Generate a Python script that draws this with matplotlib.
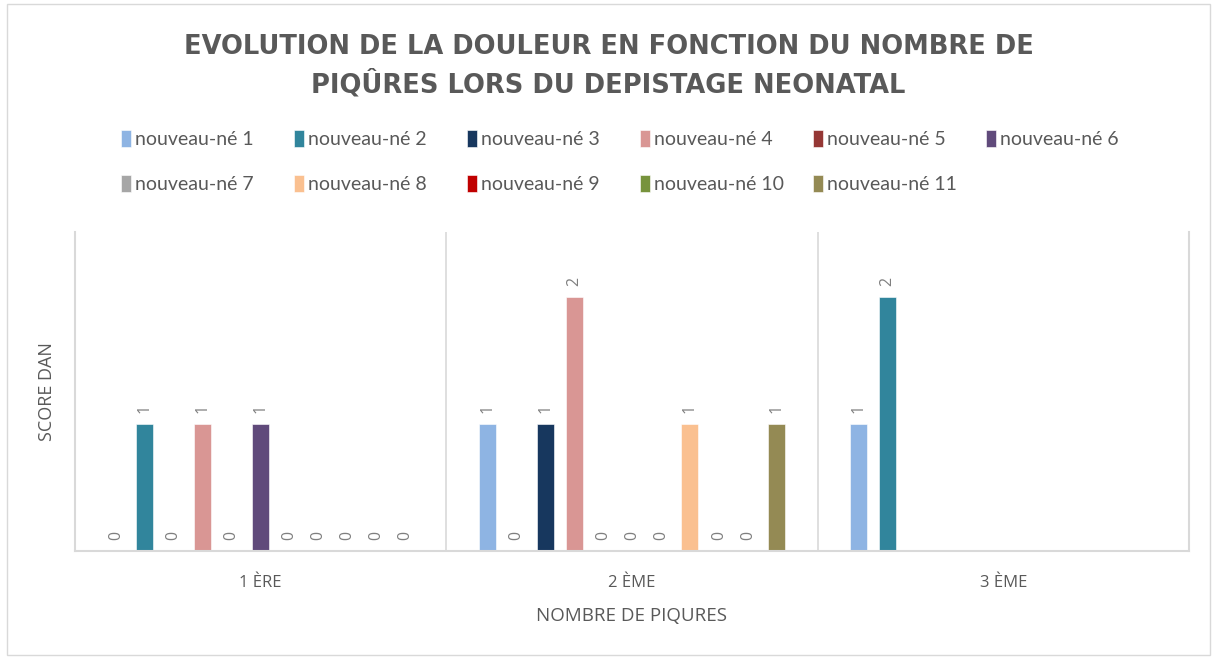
"""Douleur (score DAN) selon le nombre de piqures - depistage neonatal."""

import matplotlib
matplotlib.use("Agg")
import matplotlib.pyplot as plt
import numpy as np

# === Data ===
CATEGORIES = ["1 ÈRE", "2 ÈME", "3 ÈME"]
SERIES = [f"nouveau-né {i}" for i in range(1, 12)]
NAN = np.nan
# one list per newborn, values for 1ère / 2ème / 3ème
NB1 = [0, 1, 1]
NB2 = [1, 0, 2]
NB3 = [0, 1, NAN]
NB4 = [1, 2, NAN]
NB5 = [0, 0, NAN]
NB6 = [1, 0, NAN]
NB7 = [0, 0, NAN]
NB8 = [0, 1, NAN]
NB9 = [0, 0, NAN]
NB10 = [0, 0, NAN]
NB11 = [0, 1, NAN]
VALUES = [NB1, NB2, NB3, NB4, NB5, NB6, NB7, NB8, NB9, NB10, NB11]
COLORS = ["#8EB4E3", "#31859C", "#17375E", "#D99694", "#953735", "#604A7B",
          "#A6A6A6", "#FAC090", "#C00000", "#77933C", "#948A54"]

TEXT = "#595959"
GRID = "#D9D9D9"

plt.rcParams["font.family"] = ["Lato", "DejaVu Sans"]
OPEN = ["Open Sans", "DejaVu Sans"]

fig = plt.figure(figsize=(12.17, 6.59), dpi=100)
ax = fig.add_axes([0.0616, 0.164, 0.9154, 0.484])

x = np.arange(len(CATEGORIES))
slot = 0.078
width = 0.046
n = len(SERIES)
handles = []
for j, (name, vals, color) in enumerate(zip(SERIES, VALUES, COLORS)):
    vals = np.array(vals, dtype=float)
    offs = x + (j - (n - 1) / 2) * slot
    bars = ax.bar(offs, np.nan_to_num(vals), width, color=color, label=name,
                  edgecolor="white", linewidth=0.4)
    labels = ["" if np.isnan(v) else f"{v:.0f}" for v in vals]
    ax.bar_label(bars, labels=labels, rotation=90, padding=8, fontsize=11.5,
                 color="#7F7F7F", family=OPEN)
    handles.append(bars)

ax.set_xlim(-0.5, len(CATEGORIES) - 0.5)
ax.set_ylim(0, 2.51)
ax.set_yticks([])
ax.set_xticks(x)
ax.set_xticklabels(CATEGORIES, fontsize=12, color=TEXT, family=OPEN)
ax.tick_params(axis="x", length=0, pad=17)
for xs in x[:-1] + 0.5:
    ax.axvline(xs, color=GRID, linewidth=1.2)
for side in ["left", "right", "bottom"]:
    ax.spines[side].set_color(GRID)
    ax.spines[side].set_linewidth(1.5)
ax.spines["top"].set_visible(False)

ax.set_ylabel("SCORE DAN", fontsize=13, color=TEXT, labelpad=14, family=OPEN)
ax.set_xlabel("NOMBRE DE PIQURES", fontsize=13.5, color=TEXT, labelpad=12,
              family=OPEN)

fig.text(0.5, 0.9, "EVOLUTION DE LA DOULEUR EN FONCTION DU NOMBRE DE\n"
         "PIQÛRES LORS DU DEPISTAGE NEONATAL", ha="center", va="center",
         fontsize=18.5, fontweight="bold", color=TEXT, linespacing=1.45,
         family=["DejaVu Sans"])

# legend: one entry per slot so that columns are evenly spaced, row by row
ncol = 6
x0, dx = 0.088, 173 / 1217
y0, dy = 0.823, 45 / 659
for i, h in enumerate(handles):
    row, col = divmod(i, ncol)
    fig.legend(handles=[h], loc="upper left",
               bbox_to_anchor=(x0 + col * dx, y0 - row * dy), frameon=False,
               fontsize=14, handlelength=0.55, handleheight=0.95,
               handletextpad=0.2, labelcolor=TEXT, borderpad=0.2)

fig.patches.append(plt.Rectangle((0.006, 0.006), 0.988, 0.988,
                                 transform=fig.transFigure, fill=False,
                                 edgecolor=GRID, linewidth=1))

fig.savefig("out.png", dpi=100)
